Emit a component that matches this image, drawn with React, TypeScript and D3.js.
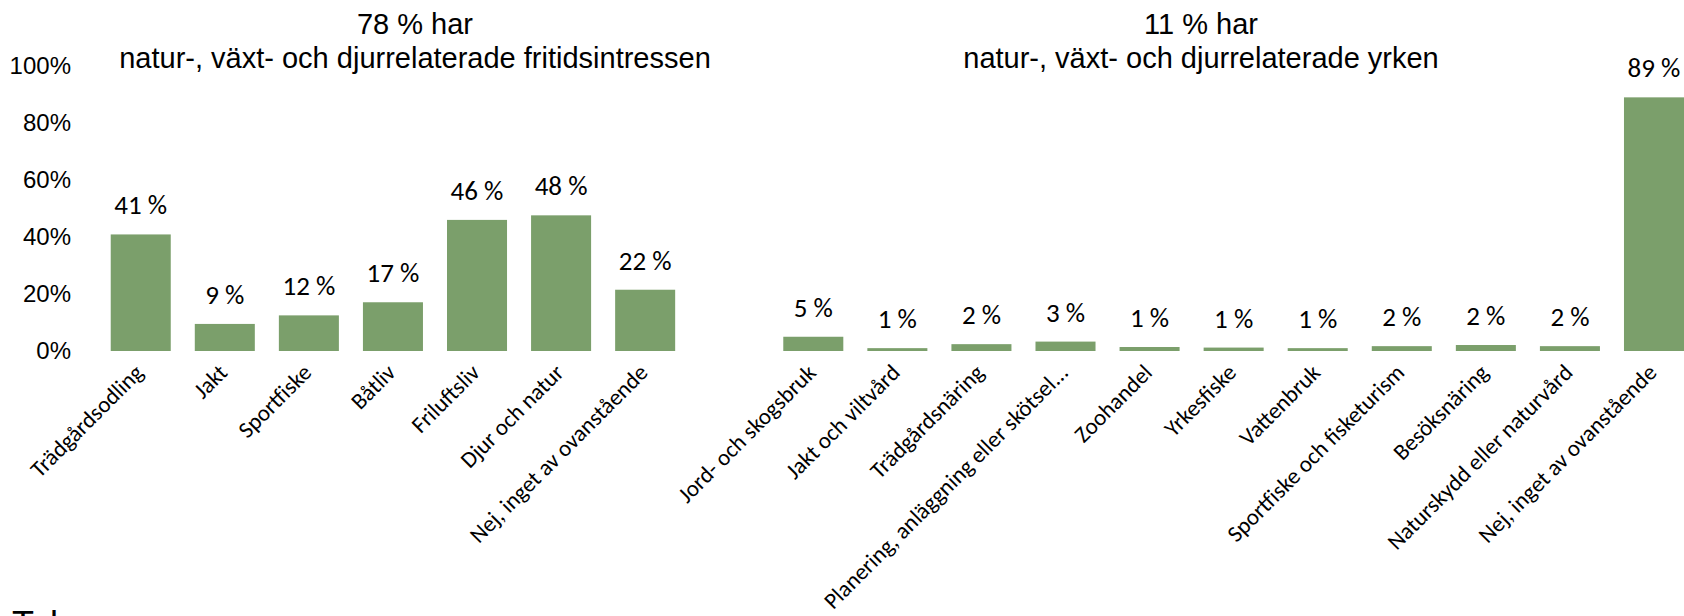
import React from "react";
import * as d3 from "d3";

const leftCategories = ["Trädgårdsodling", "Jakt", "Sportfiske", "Båtliv", "Friluftsliv", "Djur och natur", "Nej, inget av ovanstående"];
const leftValues = [40.9, 9.5, 12.5, 17.1, 46.0, 47.6, 21.5];
const leftLabels = ["41 %", "9 %", "12 %", "17 %", "46 %", "48 %", "22 %"];

const rightCategories = ["Jord- och skogsbruk", "Jakt och viltvård", "Trädgårdsnäring", "Planering, anläggning eller skötsel...", "Zoohandel", "Yrkesfiske", "Vattenbruk", "Sportfiske och fisketurism", "Besöksnäring", "Naturskydd eller naturvård", "Nej, inget av ovanstående"];
const rightValues = [5.0, 1.0, 2.4, 3.3, 1.4, 1.2, 1.0, 1.7, 2.1, 1.7, 89];
const rightLabels = ["5 %", "1 %", "2 %", "3 %", "1 %", "1 %", "1 %", "2 %", "2 %", "2 %", "89 %"];

const yTicks = [0, 20, 40, 60, 80, 100];
const leftTitle = ["78 % har", "natur-, växt- och djurrelaterade fritidsintressen"];
const rightTitle = ["11 % har", "natur-, växt- och djurrelaterade yrken"];

const W = 1684;
const H = 616;
const BAR = "#7b9f6b";
const CAL = "Carlito, Calibri, Lato, sans-serif";
const ARIAL = "'Liberation Sans', Arial, sans-serif";

export default function App() {
  const items = [
    ...leftCategories.map((c, i) => ({ key: `L${i}`, cat: c, v: leftValues[i], lab: leftLabels[i] })),
    { key: "gap", cat: "", v: null as number | null, lab: "" },
    ...rightCategories.map((c, i) => ({ key: `R${i}`, cat: c, v: rightValues[i], lab: rightLabels[i] })),
  ];
  const step = 84.07;
  const x0 = 98.7;
  const x = d3
    .scaleBand<string>()
    .domain(items.map((d) => d.key))
    .range([x0, x0 + items.length * step])
    .paddingInner(0.286)
    .paddingOuter(0.143);
  const y = d3.scaleLinear().domain([0, 100]).range([351, 66]);
  const bw = x.bandwidth();

  const leftCenter = 415;
  const rightCenter = 1201;

  return (
    <svg
      width={W}
      height={H}
      style={{ position: "absolute", left: 0, top: 0, background: "#fff" }}
    >
      <rect x={0} y={0} width={W} height={H} fill="#fff" />
      {yTicks.map((t) => (
        <text key={t} x={71} y={y(t)} dy="0.35em" textAnchor="end" fontFamily={ARIAL} fontSize={24} fill="#000">
          {`${t}%`}
        </text>
      ))}
      {[leftTitle, rightTitle].map((lines, k) => (
        <g key={k}>
          {lines.map((l, i) => (
            <text
              key={i}
              x={k === 0 ? leftCenter : rightCenter}
              y={i === 0 ? 34 : 68}
              textAnchor="middle"
              fontFamily={ARIAL}
              fontSize={29}
              fill="#000"
            >
              {l}
            </text>
          ))}
        </g>
      ))}
      {items
        .filter((d) => d.v !== null)
        .map((d) => {
          const bx = x(d.key)!;
          const cx = bx + bw / 2;
          return (
            <g key={d.key}>
              <rect x={bx} y={y(d.v!)} width={bw} height={y(0) - y(d.v!)} fill={BAR} />
              <text x={cx} y={y(d.v!) - 20} textAnchor="middle" fontFamily={CAL} fontSize={27} fill="#000">
                {d.lab}
              </text>
              <text
                transform={`translate(${cx + 4},374) rotate(-45)`}
                textAnchor="end"
                fontFamily={CAL}
                fontSize={23}
                fill="#000"
              >
                {d.cat}
              </text>
            </g>
          );
        })}
      <text x={12} y={637} fontFamily={ARIAL} fontSize={36} fill="#000">
        Tab
      </text>
    </svg>
  );
}
